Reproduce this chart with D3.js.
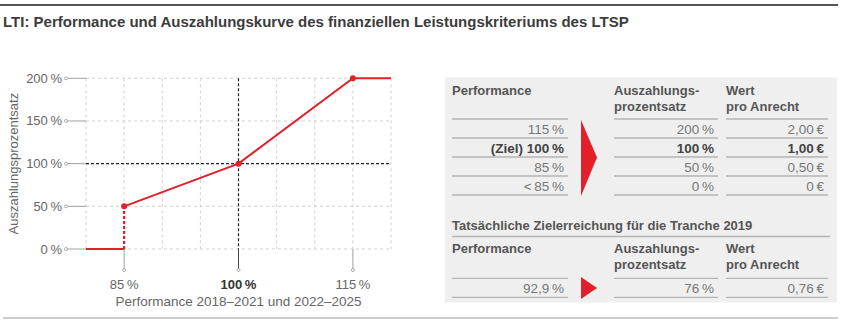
<!DOCTYPE html>
<html><head><meta charset="utf-8">
<script src="https://cdn.jsdelivr.net/npm/d3@7"></script>
<style>body{margin:0;background:#fff;} svg{display:block}</style></head>
<body><svg id="c" width="843" height="323"></svg>
<script>
const title = "LTI: Performance und Auszahlungskurve des finanziellen Leistungskriteriums des LTSP";
const xTitle = "Performance 2018–2021 und 2022–2025";
const yTitle = "Auszahlungsprozentsatz";
const curvePerformance = [80, 85, 85, 100, 115, 120];
const curvePayout = [0, 0, 50, 100, 200, 200];
const markerPerformance = [85, 100, 115];
const markerPayout = [50, 100, 200];
const xTicks = [85, 100, 115];
const xGrid = [80, 85, 90, 95, 100, 105, 110, 115, 120];
const yTicks = [0, 50, 100, 150, 200];
const targetPerformance = 100;
const targetPayout = 100;

const tableHeaders = [["Performance"], ["Auszahlungs-", "prozentsatz"], ["Wert", "pro Anrecht"]];
const tablePerformance = ["115\u2009%", "(Ziel) 100\u2009%", "85\u2009%", "<\u200985\u2009%"];
const tablePayout = ["200\u2009%", "100\u2009%", "50\u2009%", "0\u2009%"];
const tableValue = ["2,00\u2009€", "1,00\u2009€", "0,50\u2009€", "0\u2009€"];
const boldRow = 1;
const actualTitle = "Tatsächliche Zielerreichung für die Tranche 2019";
const actualPerformance = ["92,9\u2009%"];
const actualPayout = ["76\u2009%"];
const actualValue = ["0,76\u2009€"];

const svg = d3.select("#c");
const RED = "#e3202a";
const FONT = "'Liberation Sans', Arial, sans-serif";

// top rule & title
svg.append("line").attr("x1", 0).attr("x2", 838).attr("y1", 5).attr("y2", 5)
  .attr("stroke", "#555").attr("stroke-width", 2.2);
svg.append("text").attr("x", 3).attr("y", 27).text(title)
  .attr("font-family", "'Liberation Sans Narrow', 'Arial Narrow', " + FONT)
  .attr("font-weight", "bold").attr("font-size", 15).attr("fill", "#3c3c3c");
svg.append("line").attr("x1", 3).attr("x2", 838).attr("y1", 318).attr("y2", 318)
  .attr("stroke", "#9a9a9a").attr("stroke-width", 1);

// chart
const x = d3.scaleLinear().domain([80, 120]).range([86, 391]);
const y = d3.scaleLinear().domain([0, 200]).range([249, 78.3]);
const g = svg.append("g");

g.selectAll(".vg").data(xGrid.filter(d => d !== targetPerformance)).join("line")
  .attr("x1", d => x(d)).attr("x2", d => x(d)).attr("y1", y(200)).attr("y2", y(0))
  .attr("stroke", "#d0d0d0").attr("stroke-dasharray", "3,3");
g.selectAll(".hg").data(yTicks.filter(d => d !== targetPayout)).join("line")
  .attr("x1", x(80)).attr("x2", x(120)).attr("y1", d => y(d)).attr("y2", d => y(d))
  .attr("stroke", "#d0d0d0").attr("stroke-dasharray", "3,3");

// y axis ticks
const yAxis = g.append("g");
yTicks.forEach(t => {
  yAxis.append("line").attr("x1", 67).attr("x2", x(80)).attr("y1", y(t)).attr("y2", y(t))
    .attr("stroke", "#a0a0a0").attr("stroke-width", 1);
  yAxis.append("circle").attr("cx", 66).attr("cy", y(t)).attr("r", 1.5)
    .attr("fill", "#fff").attr("stroke", "#999").attr("stroke-width", 0.8);
  yAxis.append("text").attr("x", 62).attr("y", y(t) + 4.5).attr("text-anchor", "end")
    .attr("font-family", FONT).attr("font-size", 13).attr("fill", "#666")
    .text(t + "\u2009%");
});
// x axis ticks
xTicks.forEach(t => {
  const isT = t === targetPerformance;
  g.append("line").attr("x1", x(t)).attr("x2", x(t)).attr("y1", y(0)).attr("y2", 269)
    .attr("stroke", isT ? "#444" : "#a0a0a0").attr("stroke-width", 1);
  g.append("circle").attr("cx", x(t)).attr("cy", 270).attr("r", 1.5)
    .attr("fill", "#fff").attr("stroke", "#999").attr("stroke-width", 0.8);
  g.append("text").attr("x", x(t)).attr("y", 289).attr("text-anchor", "middle")
    .attr("font-family", FONT).attr("font-size", 13)
    .attr("font-weight", isT ? "bold" : "normal").attr("fill", isT ? "#333" : "#666")
    .text(t + "\u2009%");
});
g.append("text").attr("x", x(100)).attr("y", 306).attr("text-anchor", "middle")
  .attr("font-family", FONT).attr("font-size", 13.5).attr("fill", "#666").text(xTitle);
g.append("text").attr("transform", `translate(18,${(y(0) + y(200)) / 2}) rotate(-90)`)
  .attr("text-anchor", "middle").attr("font-family", FONT).attr("font-size", 13)
  .attr("fill", "#666").text(yTitle);

// target dashed lines
g.append("line").attr("x1", x(targetPerformance)).attr("x2", x(targetPerformance))
  .attr("y1", y(200)).attr("y2", y(0)).attr("stroke", "#222").attr("stroke-dasharray", "3,2").attr("stroke-width", 1.2);
g.append("line").attr("x1", x(80)).attr("x2", x(120))
  .attr("y1", y(targetPayout)).attr("y2", y(targetPayout)).attr("stroke", "#222").attr("stroke-dasharray", "3,2").attr("stroke-width", 1.2);

// curve
const pts = curvePerformance.map((p, i) => [p, curvePayout[i]]);
const line = d3.line().x(d => x(d[0])).y(d => y(d[1]));
g.append("path").attr("d", line(pts.slice(0, 2))).attr("fill", "none").attr("stroke", RED).attr("stroke-width", 2);
g.append("path").attr("d", line(pts.slice(1, 3))).attr("fill", "none").attr("stroke", RED).attr("stroke-width", 2.2).attr("stroke-dasharray", "3,2");
g.append("path").attr("d", line(pts.slice(2))).attr("fill", "none").attr("stroke", RED).attr("stroke-width", 2);
g.selectAll(".dot").data(markerPerformance).join("circle")
  .attr("cx", d => x(d)).attr("cy", (d, i) => y(markerPayout[i])).attr("r", 3).attr("fill", RED);

// table panel
svg.append("rect").attr("x", 445).attr("y", 77.5).attr("width", 392).attr("height", 225).attr("fill", "#efefef");
const cols = [[452, 568], [614, 718], [726, 828]];
const LINE = "#b4b4b4";
function header(yb) {
  tableHeaders.forEach((h, ci) => {
    h.forEach((s, li) => svg.append("text").attr("x", cols[ci][0]).attr("y", yb + li * 15.5)
      .attr("font-family", FONT).attr("font-weight", "bold").attr("font-size", 13).attr("fill", "#555").text(s));
  });
}
function rows(top, data) {
  const n = data[0].length;
  for (let i = 0; i <= n; i++) {
    cols.forEach(c => svg.append("line").attr("x1", c[0]).attr("x2", c[1])
      .attr("y1", top + i * 19).attr("y2", top + i * 19).attr("stroke", LINE).attr("stroke-width", 1.3));
  }
  data.forEach((col, ci) => col.forEach((v, ri) => {
    const b = data === mainData && ri === boldRow;
    svg.append("text").attr("x", cols[ci][1] - 4).attr("y", top + ri * 19 + 14.5).attr("text-anchor", "end")
      .attr("font-family", FONT).attr("font-size", 13.5).attr("font-weight", b ? "bold" : "normal")
      .attr("fill", b ? "#444" : "#777").text(v);
  }));
}
const mainData = [tablePerformance, tablePayout, tableValue];
header(95);
rows(119, mainData);
svg.append("path").attr("d", "M581,120 L597,157.5 L581,196 Z").attr("fill", RED);

svg.append("text").attr("x", 452).attr("y", 230).attr("font-family", FONT).attr("font-weight", "bold")
  .attr("font-size", 13).attr("fill", "#555").text(actualTitle);
svg.append("line").attr("x1", 452).attr("x2", 830).attr("y1", 236.5).attr("y2", 236.5).attr("stroke", LINE).attr("stroke-width", 1.3);
header(253);
rows(278.3, [actualPerformance, actualPayout, actualValue]);
svg.append("path").attr("d", "M581,277 L597,288 L581,299 Z").attr("fill", RED);
</script></body></html>
